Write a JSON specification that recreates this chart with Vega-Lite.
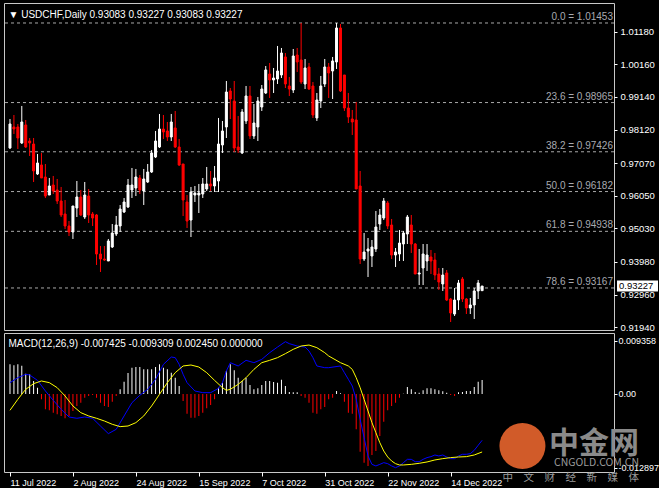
{
"$schema":"https://vega.github.io/schema/vega-lite/v6.json",
"background":"black",
"padding":{"left":3,"top":2,"right":0,"bottom":0},
"spacing":3,
"bounds":"flush",
"title":{"text":"中金网","subtitle":["CNGOLD.COM.CN","中　文　财　经　新　媒　体"],"orient":"bottom","anchor":"end","offset":-59,"dx":-20,"font":"Noto Sans CJK SC","fontSize":30,"fontWeight":"bold","color":"#8a8a8a","subtitleFont":"Noto Sans CJK SC","subtitleFontSize":10.5,"subtitleColor":"#9a9a9a","subtitlePadding":-1,"subtitleLineHeight":15},
"config":{"view":{"stroke":"#c8c8c8","strokeWidth":1},
"axis":{"labelFont":"Liberation Sans","labelFontSize":9.5,"labelColor":"#ffffff","tickColor":"#ffffff","tickSize":3,"domain":false,"grid":false,"labelPadding":3,"labelOverlap":false,"labelFlush":false,"labelBound":false,"titleFont":"Liberation Sans","titleFontSize":10,"titleFontWeight":"normal","titleColor":"#ffffff","titleAngle":0,"titleAlign":"left","titleBaseline":"alphabetic"}},
"datasets":{
"bars":[
{"i":0,"d":"2022-07-11","o":0.97544,"h":0.98451,"l":0.97513,"c":0.98295,"m":0.0052},
{"i":1,"d":"2022-07-12","o":0.98201,"h":0.98576,"l":0.97982,"c":0.98138,"m":0.00502},
{"i":2,"d":"2022-07-13","o":0.98201,"h":0.98295,"l":0.97513,"c":0.97857,"m":0.0052},
{"i":3,"d":"2022-07-14","o":0.97701,"h":0.98858,"l":0.97669,"c":0.98357,"m":0.00496},
{"i":4,"d":"2022-07-15","o":0.98264,"h":0.9842,"l":0.97544,"c":0.97575,"m":0.00356},
{"i":5,"d":"2022-07-18","o":0.97763,"h":0.97857,"l":0.97294,"c":0.97701,"m":0.00345},
{"i":6,"d":"2022-07-19","o":0.97669,"h":0.97857,"l":0.96481,"c":0.96825,"m":0.00228},
{"i":7,"d":"2022-07-20","o":0.96731,"h":0.97357,"l":0.967,"c":0.97075,"m":0.00111},
{"i":8,"d":"2022-07-21","o":0.97013,"h":0.97388,"l":0.96606,"c":0.96606,"m":-0.00093},
{"i":9,"d":"2022-07-22","o":0.96637,"h":0.97044,"l":0.95981,"c":0.96043,"m":-0.00268},
{"i":10,"d":"2022-07-25","o":0.96074,"h":0.96606,"l":0.96074,"c":0.96356,"m":-0.00286},
{"i":11,"d":"2022-07-26","o":0.96387,"h":0.96669,"l":0.96106,"c":0.962,"m":-0.00327},
{"i":12,"d":"2022-07-27","o":0.96231,"h":0.96575,"l":0.95793,"c":0.95887,"m":-0.00356},
{"i":13,"d":"2022-07-28","o":0.95887,"h":0.96325,"l":0.95386,"c":0.95449,"m":-0.00385},
{"i":14,"d":"2022-07-29","o":0.9548,"h":0.95918,"l":0.95011,"c":0.95105,"m":-0.00426},
{"i":15,"d":"2022-08-01","o":0.95105,"h":0.95261,"l":0.94792,"c":0.94917,"m":-0.00385},
{"i":16,"d":"2022-08-02","o":0.94917,"h":0.9573,"l":0.94699,"c":0.9573,"m":-0.00298},
{"i":17,"d":"2022-08-03","o":0.95668,"h":0.96512,"l":0.95386,"c":0.96012,"m":-0.0021},
{"i":18,"d":"2022-08-04","o":0.96012,"h":0.96231,"l":0.95418,"c":0.95449,"m":-0.00152},
{"i":19,"d":"2022-08-05","o":0.95386,"h":0.96481,"l":0.95324,"c":0.96074,"m":-0.00064},
{"i":20,"d":"2022-08-08","o":0.96043,"h":0.96262,"l":0.95199,"c":0.95449,"m":-0.00035},
{"i":21,"d":"2022-08-09","o":0.9548,"h":0.95543,"l":0.95105,"c":0.95355,"m":-0.00018},
{"i":22,"d":"2022-08-10","o":0.95449,"h":0.9548,"l":0.93886,"c":0.94229,"m":-0.00064},
{"i":23,"d":"2022-08-11","o":0.94229,"h":0.9448,"l":0.93667,"c":0.94073,"m":-0.00152},
{"i":24,"d":"2022-08-12","o":0.94073,"h":0.9448,"l":0.94011,"c":0.94042,"m":-0.0021},
{"i":25,"d":"2022-08-15","o":0.94011,"h":0.94699,"l":0.94011,"c":0.94636,"m":-0.00228},
{"i":26,"d":"2022-08-16","o":0.94448,"h":0.95167,"l":0.94417,"c":0.94886,"m":-0.00134},
{"i":27,"d":"2022-08-17","o":0.94855,"h":0.95418,"l":0.94792,"c":0.95136,"m":-0.00035},
{"i":28,"d":"2022-08-18","o":0.95105,"h":0.95762,"l":0.94917,"c":0.95636,"m":0.00082},
{"i":29,"d":"2022-08-19","o":0.95543,"h":0.95981,"l":0.95511,"c":0.95855,"m":0.00216},
{"i":30,"d":"2022-08-22","o":0.95699,"h":0.96575,"l":0.95668,"c":0.96387,"m":0.00368},
{"i":31,"d":"2022-08-23","o":0.96231,"h":0.96919,"l":0.95981,"c":0.96387,"m":0.00461},
{"i":32,"d":"2022-08-24","o":0.96293,"h":0.96888,"l":0.96043,"c":0.96637,"m":0.00473},
{"i":33,"d":"2022-08-25","o":0.96606,"h":0.967,"l":0.96106,"c":0.96231,"m":0.00473},
{"i":34,"d":"2022-08-26","o":0.962,"h":0.96888,"l":0.95762,"c":0.96575,"m":0.00432},
{"i":35,"d":"2022-08-29","o":0.96481,"h":0.97044,"l":0.9645,"c":0.96794,"m":0.00432},
{"i":36,"d":"2022-08-30","o":0.96794,"h":0.97482,"l":0.96763,"c":0.97388,"m":0.00432},
{"i":37,"d":"2022-08-31","o":0.97263,"h":0.98076,"l":0.97232,"c":0.97763,"m":0.00473},
{"i":38,"d":"2022-09-01","o":0.97575,"h":0.98608,"l":0.97544,"c":0.98138,"m":0.0052},
{"i":39,"d":"2022-09-02","o":0.98138,"h":0.98576,"l":0.97826,"c":0.98045,"m":0.00461},
{"i":40,"d":"2022-09-05","o":0.98076,"h":0.98357,"l":0.97763,"c":0.97888,"m":0.00432},
{"i":41,"d":"2022-09-06","o":0.97888,"h":0.98608,"l":0.97763,"c":0.98357,"m":0.00374},
{"i":42,"d":"2022-09-07","o":0.9817,"h":0.98701,"l":0.97544,"c":0.97575,"m":0.00286},
{"i":43,"d":"2022-09-08","o":0.97575,"h":0.97826,"l":0.96981,"c":0.97013,"m":0.0014},
{"i":44,"d":"2022-09-09","o":0.97044,"h":0.97044,"l":0.95418,"c":0.95918,"m":-0.00123},
{"i":45,"d":"2022-09-12","o":0.95855,"h":0.96074,"l":0.95042,"c":0.95261,"m":-0.00345},
{"i":46,"d":"2022-09-13","o":0.95292,"h":0.96325,"l":0.94761,"c":0.96168,"m":-0.00415},
{"i":47,"d":"2022-09-14","o":0.96074,"h":0.96356,"l":0.95855,"c":0.96137,"m":-0.00415},
{"i":48,"d":"2022-09-15","o":0.96074,"h":0.96419,"l":0.95511,"c":0.96137,"m":-0.00385},
{"i":49,"d":"2022-09-16","o":0.96106,"h":0.96606,"l":0.95981,"c":0.96419,"m":-0.00327},
{"i":50,"d":"2022-09-19","o":0.96262,"h":0.9695,"l":0.962,"c":0.96419,"m":-0.00251},
{"i":51,"d":"2022-09-20","o":0.96419,"h":0.96825,"l":0.962,"c":0.96356,"m":-0.00193},
{"i":52,"d":"2022-09-21","o":0.96356,"h":0.96981,"l":0.96168,"c":0.96606,"m":-0.00093},
{"i":53,"d":"2022-09-22","o":0.96512,"h":0.98483,"l":0.96168,"c":0.97669,"m":0.00111},
{"i":54,"d":"2022-09-23","o":0.97638,"h":0.98389,"l":0.97388,"c":0.98076,"m":0.00199},
{"i":55,"d":"2022-09-26","o":0.98201,"h":0.99639,"l":0.97857,"c":0.99295,"m":0.00403},
{"i":56,"d":"2022-09-27","o":0.99327,"h":0.9942,"l":0.98451,"c":0.99076,"m":0.0052},
{"i":57,"d":"2022-09-28","o":0.99014,"h":0.99639,"l":0.97419,"c":0.97544,"m":0.00415},
{"i":58,"d":"2022-09-29","o":0.97575,"h":0.98545,"l":0.97388,"c":0.97482,"m":0.00286},
{"i":59,"d":"2022-09-30","o":0.97388,"h":0.98764,"l":0.97357,"c":0.9867,"m":0.00228},
{"i":60,"d":"2022-10-03","o":0.98389,"h":0.99483,"l":0.98295,"c":0.9917,"m":0.00286},
{"i":61,"d":"2022-10-04","o":0.9917,"h":0.99483,"l":0.97826,"c":0.9792,"m":0.00158},
{"i":62,"d":"2022-10-05","o":0.9792,"h":0.9892,"l":0.97826,"c":0.98326,"m":0.00082},
{"i":63,"d":"2022-10-06","o":0.98201,"h":0.99139,"l":0.97763,"c":0.99014,"m":0.00099},
{"i":64,"d":"2022-10-07","o":0.98826,"h":0.99514,"l":0.98701,"c":0.99389,"m":0.00158},
{"i":65,"d":"2022-10-10","o":0.99264,"h":1.00108,"l":0.99233,"c":0.99984,"m":0.00228},
{"i":66,"d":"2022-10-11","o":0.99858,"h":1.00202,"l":0.99108,"c":0.99671,"m":0.00228},
{"i":67,"d":"2022-10-12","o":0.99671,"h":1.00046,"l":0.99264,"c":0.99733,"m":0.0021},
{"i":68,"d":"2022-10-13","o":0.99702,"h":1.00734,"l":0.99546,"c":0.99952,"m":0.00199},
{"i":69,"d":"2022-10-14","o":0.99827,"h":1.00671,"l":0.99733,"c":1.00515,"m":0.00251},
{"i":70,"d":"2022-10-17","o":1.0039,"h":1.00515,"l":0.9942,"c":0.99546,"m":0.0014},
{"i":71,"d":"2022-10-18","o":0.99483,"h":0.99765,"l":0.9917,"c":0.99389,"m":0.00035},
{"i":72,"d":"2022-10-19","o":0.99358,"h":1.0064,"l":0.99264,"c":1.00421,"m":0.00029},
{"i":73,"d":"2022-10-20","o":1.00452,"h":1.00671,"l":0.99921,"c":1.00234,"m":0.00029},
{"i":74,"d":"2022-10-21","o":1.00296,"h":1.01453,"l":0.99546,"c":0.99608,"m":-0.00035},
{"i":75,"d":"2022-10-24","o":0.99546,"h":1.00327,"l":0.99389,"c":1.00046,"m":-0.00064},
{"i":76,"d":"2022-10-25","o":1.00077,"h":1.00202,"l":0.99358,"c":0.99389,"m":-0.00152},
{"i":77,"d":"2022-10-26","o":0.99483,"h":0.99608,"l":0.98483,"c":0.98576,"m":-0.00327},
{"i":78,"d":"2022-10-27","o":0.98483,"h":0.99264,"l":0.98389,"c":0.99045,"m":-0.00345},
{"i":79,"d":"2022-10-28","o":0.99014,"h":0.99796,"l":0.98795,"c":0.99483,"m":-0.00268},
{"i":80,"d":"2022-10-31","o":0.99546,"h":1.00327,"l":0.99452,"c":1.00077,"m":-0.00228},
{"i":81,"d":"2022-11-01","o":1.00077,"h":1.00202,"l":0.99108,"c":0.9989,"m":-0.00093},
{"i":82,"d":"2022-11-02","o":0.99952,"h":1.0039,"l":0.99076,"c":1.00265,"m":-0.00064},
{"i":83,"d":"2022-11-03","o":1.00234,"h":1.01453,"l":1.00015,"c":1.01297,"m":0.00053},
{"i":84,"d":"2022-11-04","o":1.01297,"h":1.01422,"l":0.99295,"c":0.99327,"m":0.00012},
{"i":85,"d":"2022-11-07","o":0.99827,"h":0.99827,"l":0.98701,"c":0.98795,"m":-0.00134},
{"i":86,"d":"2022-11-08","o":0.98795,"h":0.99264,"l":0.98326,"c":0.98514,"m":-0.00327},
{"i":87,"d":"2022-11-09","o":0.98451,"h":0.98733,"l":0.97951,"c":0.98357,"m":-0.00345},
{"i":88,"d":"2022-11-10","o":0.9842,"h":0.98983,"l":0.96262,"c":0.96262,"m":-0.00619},
{"i":89,"d":"2022-11-11","o":0.96356,"h":0.96825,"l":0.93917,"c":0.94073,"m":-0.0101},
{"i":90,"d":"2022-11-14","o":0.94073,"h":0.94886,"l":0.94011,"c":0.94292,"m":-0.01203},
{"i":91,"d":"2022-11-15","o":0.94323,"h":0.9473,"l":0.9351,"c":0.94386,"m":-0.01261},
{"i":92,"d":"2022-11-16","o":0.94167,"h":0.94667,"l":0.93823,"c":0.94448,"m":-0.01069},
{"i":93,"d":"2022-11-17","o":0.94386,"h":0.95574,"l":0.94292,"c":0.95074,"m":-0.00999},
{"i":94,"d":"2022-11-18","o":0.95167,"h":0.95636,"l":0.9498,"c":0.95449,"m":-0.00736},
{"i":95,"d":"2022-11-21","o":0.95355,"h":0.95981,"l":0.95292,"c":0.95887,"m":-0.00485},
{"i":96,"d":"2022-11-22","o":0.95824,"h":0.95887,"l":0.95011,"c":0.95105,"m":-0.00286},
{"i":97,"d":"2022-11-23","o":0.95136,"h":0.95324,"l":0.94073,"c":0.94198,"m":-0.0021},
{"i":98,"d":"2022-11-24","o":0.94198,"h":0.94417,"l":0.93823,"c":0.94292,"m":-0.00152},
{"i":99,"d":"2022-11-25","o":0.94229,"h":0.9498,"l":0.94011,"c":0.94573,"m":-0.00064},
{"i":100,"d":"2022-11-28","o":0.94542,"h":0.94948,"l":0.94011,"c":0.94886,"m":0.00006},
{"i":101,"d":"2022-11-29","o":0.94855,"h":0.95449,"l":0.94542,"c":0.95386,"m":0.00123},
{"i":102,"d":"2022-11-30","o":0.95136,"h":0.95449,"l":0.94261,"c":0.94542,"m":0.00082},
{"i":103,"d":"2022-12-01","o":0.94542,"h":0.94573,"l":0.93604,"c":0.93604,"m":0.00035},
{"i":104,"d":"2022-12-02","o":0.93604,"h":0.94386,"l":0.9326,"c":0.93636,"m":0.00023},
{"i":105,"d":"2022-12-05","o":0.93792,"h":0.94542,"l":0.9326,"c":0.94229,"m":0.00064},
{"i":106,"d":"2022-12-06","o":0.94011,"h":0.94542,"l":0.93698,"c":0.94198,"m":0.00099},
{"i":107,"d":"2022-12-07","o":0.94136,"h":0.94355,"l":0.93604,"c":0.94011,"m":0.00099},
{"i":108,"d":"2022-12-08","o":0.94042,"h":0.94261,"l":0.93417,"c":0.93573,"m":0.00082},
{"i":109,"d":"2022-12-09","o":0.93604,"h":0.93792,"l":0.93104,"c":0.93354,"m":0.00064},
{"i":110,"d":"2022-12-12","o":0.93292,"h":0.93792,"l":0.93073,"c":0.93573,"m":0.00047},
{"i":111,"d":"2022-12-13","o":0.93636,"h":0.93729,"l":0.9276,"c":0.92791,"m":0.00023},
{"i":112,"d":"2022-12-14","o":0.92822,"h":0.92854,"l":0.92103,"c":0.92385,"m":-0.00018},
{"i":113,"d":"2022-12-15","o":0.92353,"h":0.93166,"l":0.92291,"c":0.92791,"m":-0.00035},
{"i":114,"d":"2022-12-16","o":0.92791,"h":0.93417,"l":0.92479,"c":0.93323,"m":0.00029},
{"i":115,"d":"2022-12-19","o":0.93448,"h":0.9351,"l":0.92729,"c":0.92822,"m":0.00035},
{"i":116,"d":"2022-12-20","o":0.92822,"h":0.92854,"l":0.92353,"c":0.92541,"m":0.00053},
{"i":117,"d":"2022-12-21","o":0.92541,"h":0.92854,"l":0.92353,"c":0.92635,"m":0.00053},
{"i":118,"d":"2022-12-22","o":0.92635,"h":0.93166,"l":0.92197,"c":0.93073,"m":0.00123},
{"i":119,"d":"2022-12-23","o":0.93073,"h":0.93417,"l":0.92822,"c":0.93323,"m":0.00216},
{"i":120,"d":"2022-12-26","o":0.93083,"h":0.93227,"l":0.93083,"c":0.93227,"m":0.00245}
],
"fib":[
{"p":1.01453,"label":"0.0 = 1.01453"},
{"p":0.98965,"label":"23.6 = 0.98965"},
{"p":0.97426,"label":"38.2 = 0.97426"},
{"p":0.96182,"label":"50.0 = 0.96182"},
{"p":0.94938,"label":"61.8 = 0.94938"},
{"p":0.93167,"label":"78.6 = 0.93167"}
],
"lines":[
{"s":"MACD","i":0,"v":0.00199},{"s":"MACD","i":2,"v":0.00286},{"s":"MACD","i":4,"v":0.00345},{"s":"MACD","i":5,"v":0.00333},{"s":"MACD","i":7,"v":0.00239},{"s":"MACD","i":9,"v":0.00053},{"s":"MACD","i":11,"v":-0.00111},{"s":"MACD","i":13,"v":-0.00268},{"s":"MACD","i":15,"v":-0.00403},{"s":"MACD","i":17,"v":-0.00426},{"s":"MACD","i":19,"v":-0.00403},{"s":"MACD","i":21,"v":-0.00426},{"s":"MACD","i":23,"v":-0.00561},{"s":"MACD","i":25,"v":-0.00695},{"s":"MACD","i":27,"v":-0.00619},{"s":"MACD","i":29,"v":-0.00385},{"s":"MACD","i":31,"v":-0.00152},{"s":"MACD","i":33,"v":-0.00023},{"s":"MACD","i":35,"v":0.00082},{"s":"MACD","i":37,"v":0.00257},{"s":"MACD","i":39,"v":0.0052},{"s":"MACD","i":41,"v":0.00648},{"s":"MACD","i":42,"v":0.00637},{"s":"MACD","i":43,"v":0.0052},{"s":"MACD","i":44,"v":0.00345},{"s":"MACD","i":45,"v":0.00199},{"s":"MACD","i":47,"v":0.00053},{"s":"MACD","i":49,"v":0.00023},{"s":"MACD","i":51,"v":0.00023},{"s":"MACD","i":53,"v":0.00099},{"s":"MACD","i":54,"v":0.00199},{"s":"MACD","i":55,"v":0.00403},{"s":"MACD","i":56,"v":0.00549},{"s":"MACD","i":58,"v":0.00491},{"s":"MACD","i":60,"v":0.0059},{"s":"MACD","i":62,"v":0.00549},{"s":"MACD","i":64,"v":0.00607},{"s":"MACD","i":66,"v":0.00724},{"s":"MACD","i":68,"v":0.00823},{"s":"MACD","i":70,"v":0.00917},{"s":"MACD","i":71,"v":0.00882},{"s":"MACD","i":73,"v":0.00841},{"s":"MACD","i":75,"v":0.00823},{"s":"MACD","i":76,"v":0.00753},{"s":"MACD","i":77,"v":0.00637},{"s":"MACD","i":78,"v":0.00491},{"s":"MACD","i":80,"v":0.00461},{"s":"MACD","i":81,"v":0.00461},{"s":"MACD","i":84,"v":0.00491},{"s":"MACD","i":85,"v":0.00374},{"s":"MACD","i":86,"v":0.00257},{"s":"MACD","i":87,"v":0.0014},{"s":"MACD","i":88,"v":-0.00093},{"s":"MACD","i":89,"v":-0.00444},{"s":"MACD","i":90,"v":-0.00765},{"s":"MACD","i":91,"v":-0.01086},{"s":"MACD","i":92,"v":-0.01233},{"s":"MACD","i":93,"v":-0.01261},{"s":"MACD","i":94,"v":-0.01233},{"s":"MACD","i":95,"v":-0.01203},{"s":"MACD","i":96,"v":-0.01221},{"s":"MACD","i":97,"v":-0.01261},{"s":"MACD","i":98,"v":-0.01291},{"s":"MACD","i":99,"v":-0.01261},{"s":"MACD","i":100,"v":-0.01203},{"s":"MACD","i":101,"v":-0.01145},{"s":"MACD","i":102,"v":-0.01145},{"s":"MACD","i":103,"v":-0.01186},{"s":"MACD","i":104,"v":-0.01186},{"s":"MACD","i":105,"v":-0.01145},{"s":"MACD","i":106,"v":-0.01115},{"s":"MACD","i":107,"v":-0.01098},{"s":"MACD","i":108,"v":-0.01069},{"s":"MACD","i":109,"v":-0.01086},{"s":"MACD","i":110,"v":-0.01069},{"s":"MACD","i":111,"v":-0.01104},{"s":"MACD","i":112,"v":-0.01133},{"s":"MACD","i":113,"v":-0.01133},{"s":"MACD","i":114,"v":-0.01086},{"s":"MACD","i":115,"v":-0.01057},{"s":"MACD","i":116,"v":-0.01057},{"s":"MACD","i":117,"v":-0.01045},{"s":"MACD","i":118,"v":-0.00987},{"s":"MACD","i":119,"v":-0.00899},{"s":"MACD","i":120,"v":-0.00812},
{"s":"Signal","i":0,"v":-0.00286},{"s":"Signal","i":2,"v":-0.00093},{"s":"Signal","i":4,"v":0.00082},{"s":"Signal","i":6,"v":0.00181},{"s":"Signal","i":8,"v":0.00228},{"s":"Signal","i":10,"v":0.00199},{"s":"Signal","i":12,"v":0.00111},{"s":"Signal","i":14,"v":-0.00035},{"s":"Signal","i":16,"v":-0.0021},{"s":"Signal","i":18,"v":-0.00327},{"s":"Signal","i":20,"v":-0.00385},{"s":"Signal","i":22,"v":-0.00426},{"s":"Signal","i":24,"v":-0.00473},{"s":"Signal","i":26,"v":-0.00531},{"s":"Signal","i":28,"v":-0.00572},{"s":"Signal","i":30,"v":-0.00561},{"s":"Signal","i":32,"v":-0.00502},{"s":"Signal","i":34,"v":-0.00385},{"s":"Signal","i":36,"v":-0.0021},{"s":"Signal","i":38,"v":-0.00006},{"s":"Signal","i":40,"v":0.00199},{"s":"Signal","i":42,"v":0.00374},{"s":"Signal","i":44,"v":0.00491},{"s":"Signal","i":46,"v":0.00508},{"s":"Signal","i":48,"v":0.00473},{"s":"Signal","i":50,"v":0.00374},{"s":"Signal","i":52,"v":0.00239},{"s":"Signal","i":54,"v":0.00111},{"s":"Signal","i":55,"v":0.00064},{"s":"Signal","i":56,"v":0.00082},{"s":"Signal","i":58,"v":0.00169},{"s":"Signal","i":60,"v":0.00286},{"s":"Signal","i":62,"v":0.00432},{"s":"Signal","i":64,"v":0.00549},{"s":"Signal","i":66,"v":0.0059},{"s":"Signal","i":68,"v":0.00637},{"s":"Signal","i":70,"v":0.00707},{"s":"Signal","i":72,"v":0.00783},{"s":"Signal","i":74,"v":0.00841},{"s":"Signal","i":76,"v":0.00858},{"s":"Signal","i":78,"v":0.00812},{"s":"Signal","i":80,"v":0.00724},{"s":"Signal","i":81,"v":0.00666},{"s":"Signal","i":84,"v":0.00549},{"s":"Signal","i":86,"v":0.00491},{"s":"Signal","i":87,"v":0.00432},{"s":"Signal","i":88,"v":0.00286},{"s":"Signal","i":89,"v":0.00111},{"s":"Signal","i":90,"v":-0.00093},{"s":"Signal","i":91,"v":-0.00298},{"s":"Signal","i":92,"v":-0.00502},{"s":"Signal","i":93,"v":-0.00677},{"s":"Signal","i":94,"v":-0.00853},{"s":"Signal","i":95,"v":-0.00999},{"s":"Signal","i":96,"v":-0.01104},{"s":"Signal","i":97,"v":-0.01174},{"s":"Signal","i":98,"v":-0.01221},{"s":"Signal","i":99,"v":-0.01244},{"s":"Signal","i":100,"v":-0.01244},{"s":"Signal","i":102,"v":-0.01233},{"s":"Signal","i":104,"v":-0.01215},{"s":"Signal","i":106,"v":-0.01191},{"s":"Signal","i":108,"v":-0.01156},{"s":"Signal","i":110,"v":-0.01133},{"s":"Signal","i":112,"v":-0.01115},{"s":"Signal","i":114,"v":-0.01104},{"s":"Signal","i":116,"v":-0.01098},{"s":"Signal","i":118,"v":-0.01069},{"s":"Signal","i":120,"v":-0.01016}
]
},
"vconcat":[
{
"width":610,"height":327,
"layer":[
{"data":{"name":"fib"},"mark":{"type":"rule","stroke":"#a8a8a8","strokeDash":[3,3],"strokeWidth":1},
"encoding":{"y":{"field":"p","type":"quantitative","scale":{"domain":[0.91853,1.02078],"nice":false,"zero":false},
"axis":{"orient":"right","values":[1.0118,1.0016,0.9914,0.9812,0.9707,0.9605,0.9503,0.9398,0.9296,0.9194],"tickCount":12,"format":".5f","labelOverlap":false,
"title":"▼ USDCHF,Daily  0.93083 0.93227 0.93083 0.93227","titleX":-606,"titleY":14}}}},
{"data":{"name":"fib"},"mark":{"type":"text","align":"right","baseline":"bottom","dx":-1,"dy":-1,"font":"Liberation Sans","fontSize":10,"color":"#a8aab0"},
"encoding":{"x":{"value":"width"},"y":{"field":"p","type":"quantitative"},"text":{"field":"label"}}},
{"data":{"name":"bars"},"mark":{"type":"rule","strokeWidth":1},
"encoding":{"x":{"field":"i","type":"quantitative","scale":{"domain":[-0.25,152.25],"nice":false,"zero":false},"axis":null},
"y":{"field":"l","type":"quantitative"},"y2":{"field":"h"},
"stroke":{"condition":{"test":"datum.c >= datum.o","value":"#ffffff"},"value":"#ff0000"}}},
{"data":{"name":"bars"},"mark":{"type":"bar","size":2,"strokeWidth":1},
"encoding":{"x":{"field":"i","type":"quantitative"},
"y":{"field":"o","type":"quantitative"},"y2":{"field":"c"},
"fill":{"condition":{"test":"datum.c >= datum.o","value":"#ffffff"},"value":"#ff0000"},
"stroke":{"condition":{"test":"datum.c >= datum.o","value":"#ffffff"},"value":"#ff0000"}}},
{"data":{"name":"bars"},"transform":[{"filter":"datum.i == 120"}],
"mark":{"type":"point","shape":"M0.55,-1H8V1H0.55Z","size":121,"filled":true,"color":"#ffffff","opacity":1,"strokeWidth":0},
"encoding":{"x":{"value":"width"},"y":{"field":"c","type":"quantitative"}}},
{"data":{"name":"bars"},"transform":[{"filter":"datum.i == 120"}],
"mark":{"type":"text","align":"left","baseline":"middle","dx":5,"font":"Liberation Sans","fontSize":9.5,"color":"#000000"},
"encoding":{"x":{"value":"width"},"y":{"field":"c","type":"quantitative"},"text":{"field":"c","type":"quantitative","format":".5f"}}}
]
},
{
"width":610,"height":139,
"layer":[
{"data":{"name":"bars"},"mark":{"type":"bar","size":1,"strokeWidth":0},
"encoding":{"x":{"field":"i","type":"quantitative","scale":{"domain":[-0.25,152.25],"nice":false,"zero":false},
"axis":{"values":[0,16,32,48,64,80,96,112],"labelExpr":"['11 Jul 2022','2 Aug 2022','24 Aug 2022','15 Sep 2022','7 Oct 2022','31 Oct 2022','22 Nov 2022','14 Dec 2022'][datum.value/16]","labelAlign":"left","labelPadding":2,"labelFontSize":9,"tickSize":4,"tickCount":12,"title":null}},
"y":{"field":"m","type":"quantitative","scale":{"domain":[-0.01367,0.01069],"nice":false,"zero":false},
"axis":{"orient":"right","values":[0.009358,0,-0.012897],"labelExpr":"datum.value > 0.005 ? '0.009358' : (datum.value < -0.005 ? '-0.012897' : '0.00')","labelFontSize":9,"labelPadding":1,
"title":"MACD(12,26,9) -0.007425 -0.009309 0.002450 0.000000","titleX":-606,"titleY":13}},
"y2":{"datum":0},
"fill":{"condition":{"test":"datum.m >= 0","value":"#ffffff"},"value":"#ff0000"}}},
{"data":{"name":"lines"},"mark":{"type":"line","strokeWidth":1},
"encoding":{"x":{"field":"i","type":"quantitative"},"y":{"field":"v","type":"quantitative"},
"stroke":{"field":"s","type":"nominal","scale":{"domain":["MACD","Signal"],"range":["#0000ff","#ffff00"]},"legend":null}}},
{"data":{"values":[{}]},"mark":{"type":"point","filled":true,"size":2116,"color":"#e8652d","opacity":0.9},
"encoding":{"x":{"datum":130.25},"y":{"datum":-0.00911}}}
]
}
]
}
